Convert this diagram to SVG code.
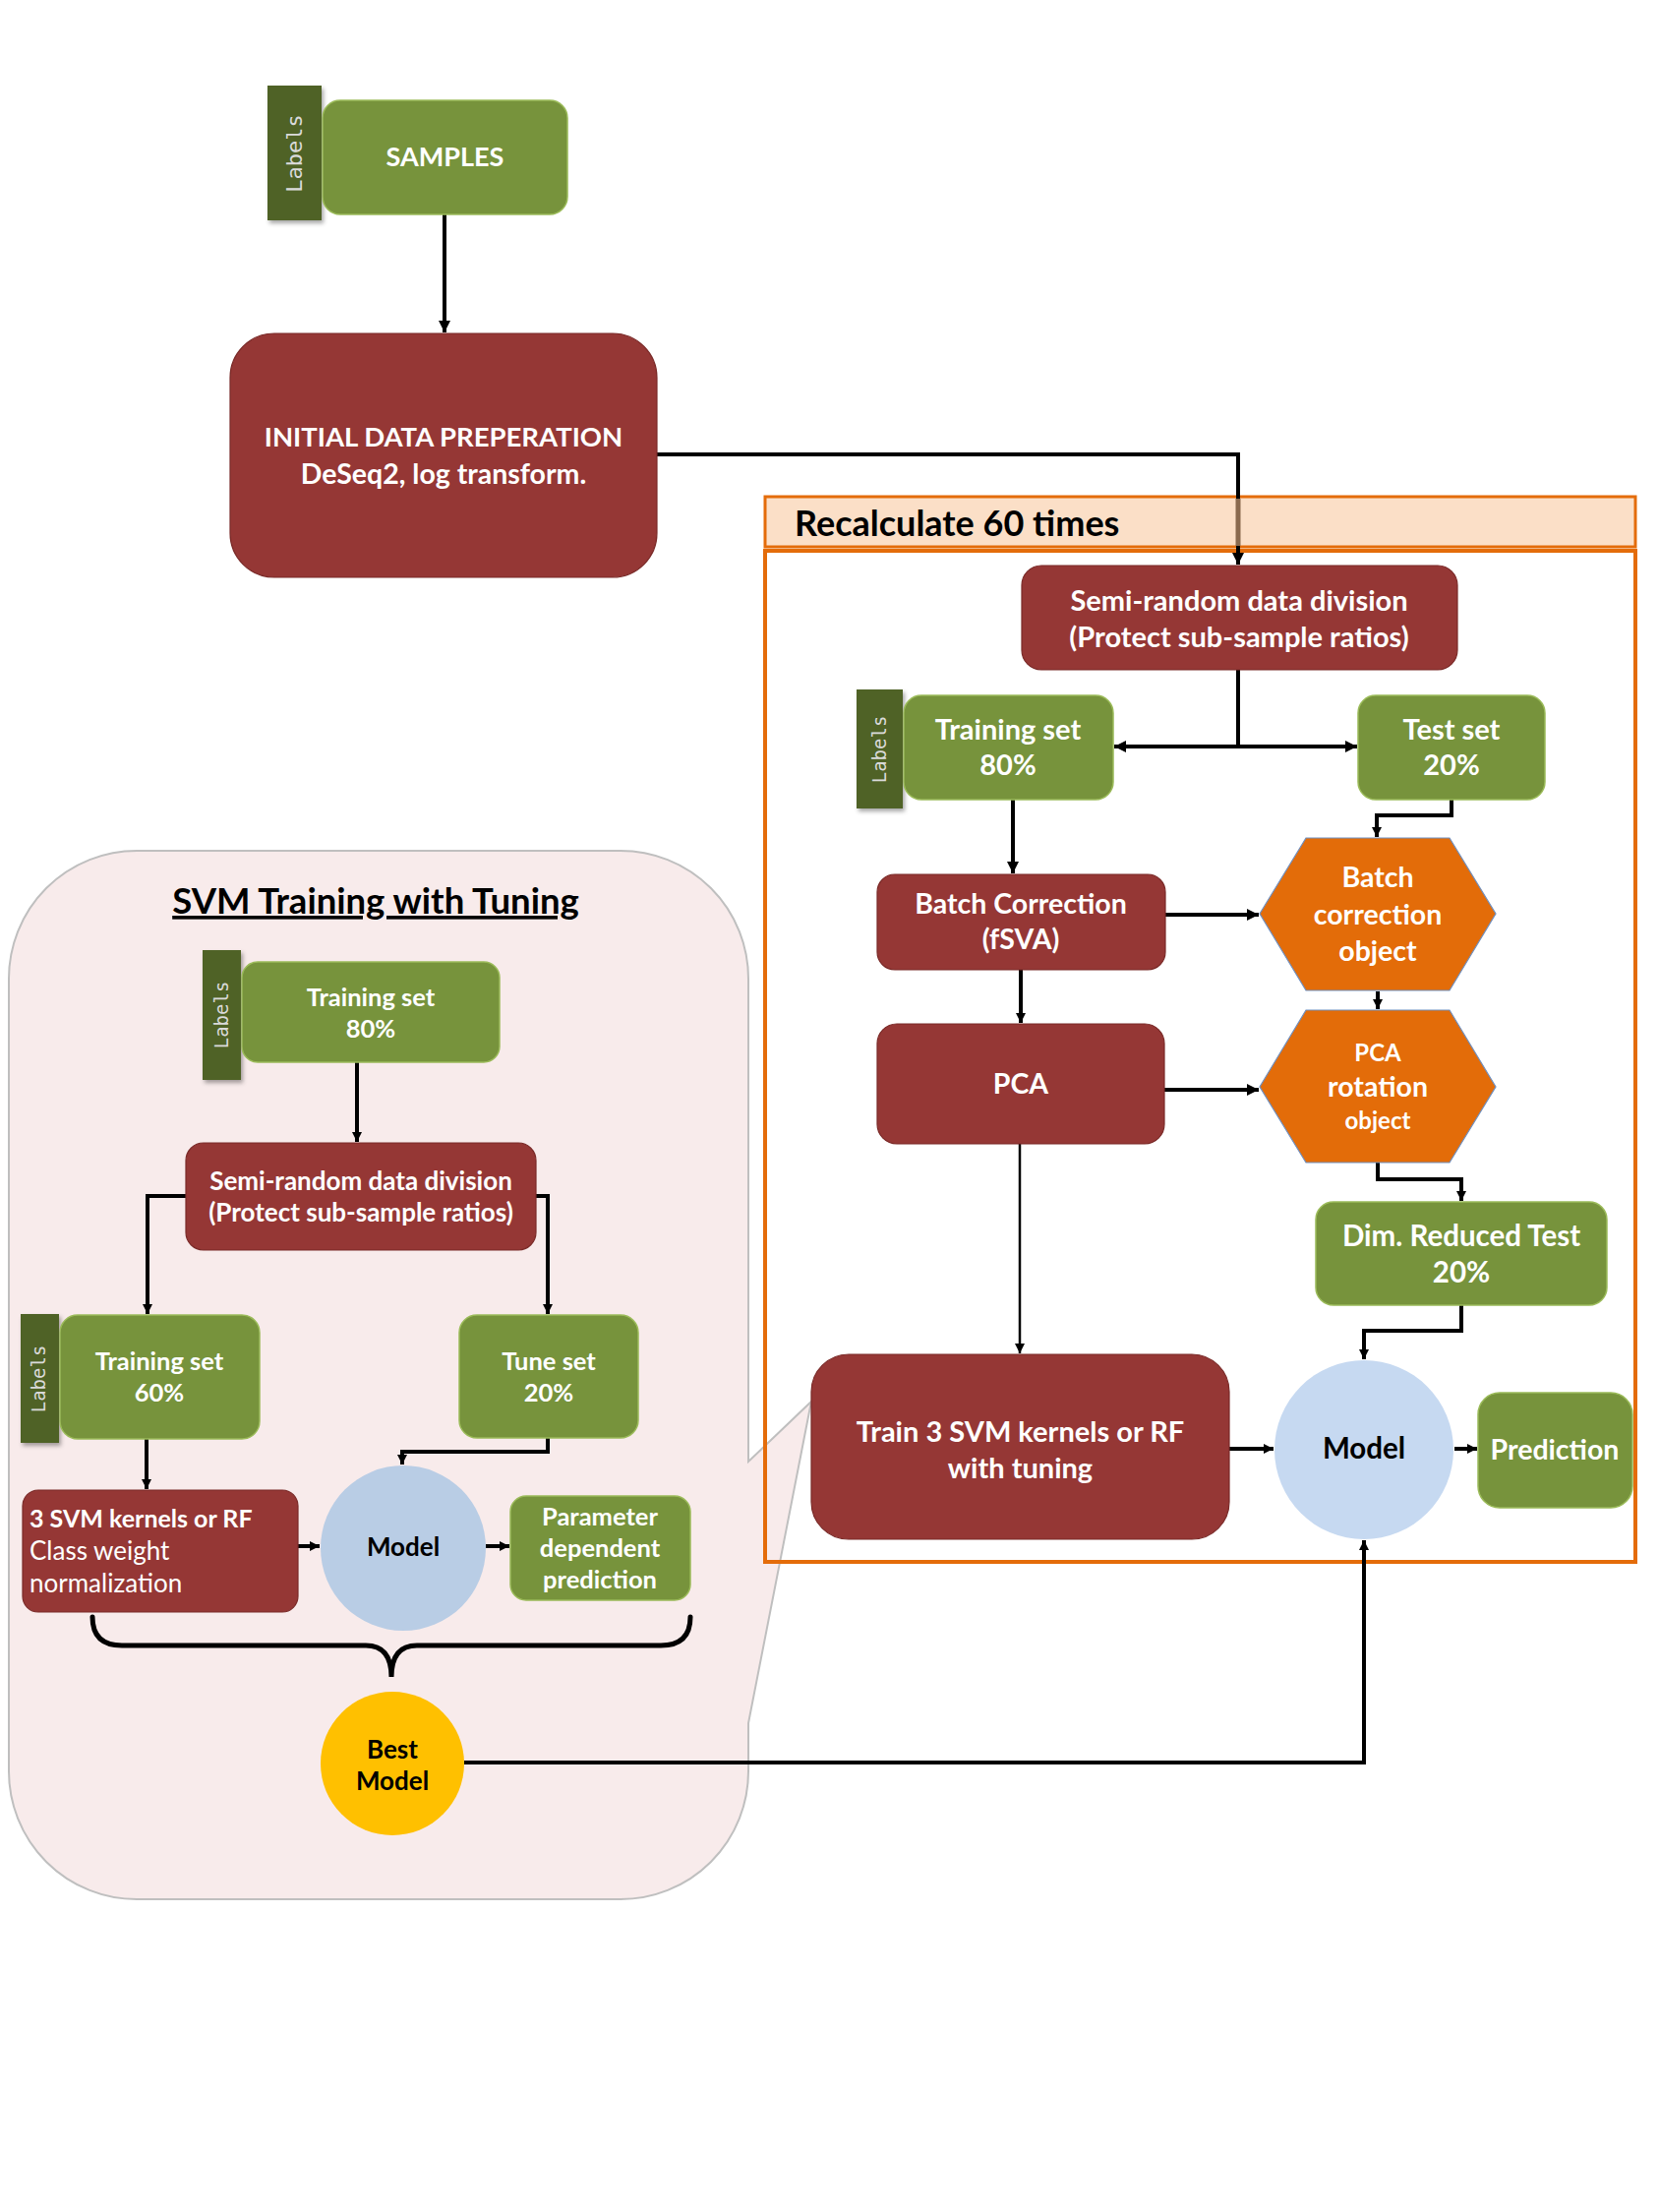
<svg xmlns="http://www.w3.org/2000/svg" width="1687" height="2249" viewBox="0 0 1687 2249">
<style>
  text { font-family: Lato, "Open Sans", "Liberation Sans", sans-serif; }
  .g { fill: #77933C; stroke: #9BBB59; stroke-width: 1.5; }
  .r { fill: #953735; stroke: #7A2A28; stroke-width: 1.2; }
  .tab { fill: #4F6228; filter: url(#sh); }
  .hex { fill: #E36C09; stroke: #6F8FBF; stroke-width: 1.2; }
  .w { fill: #FFFFFF; font-weight: bold; text-anchor: middle; }
  .k { fill: #000000; font-weight: bold; text-anchor: middle; }
  .lab { fill: #DADADA; font-family: "DejaVu Sans Mono", "Liberation Mono", monospace; text-anchor: middle; }
  .c { fill: none; stroke: #000; stroke-width: 4; stroke-linejoin: miter; }
  .c2 { fill: none; stroke: #000; stroke-width: 2.5; }
</style>
<defs>
  <marker id="ah" viewBox="0 0 10 10" refX="10" refY="5" markerUnits="userSpaceOnUse" markerWidth="12" markerHeight="12" orient="auto-start-reverse">
    <path d="M0,0 L10,5 L0,10 z" fill="#000"/>
  </marker>
  <marker id="as" viewBox="0 0 10 10" refX="10" refY="5" markerUnits="userSpaceOnUse" markerWidth="10" markerHeight="10" orient="auto-start-reverse">
    <path d="M0,0 L10,5 L0,10 z" fill="#000"/>
  </marker>
  <filter id="sh" x="-20%" y="-10%" width="150%" height="130%">
    <feDropShadow dx="2" dy="3" stdDeviation="2" flood-color="#000" flood-opacity="0.35"/>
  </filter>
</defs>
<rect width="1687" height="2249" fill="#FFFFFF"/>

<!-- SVM tuning panel with callout wedge -->
<g id="svm-panel">
  <path d="M139 865 H631 A130 130 0 0 1 761 995 V1486 L825 1425 L761 1752 V1801 A130 130 0 0 1 631 1931 H139 A130 130 0 0 1 9 1801 V995 A130 130 0 0 1 139 865 Z" fill="#F8EBEB" stroke="#BFBFBF" stroke-width="2"/>
  <text x="382" y="929" class="k" font-size="36.5" text-decoration="underline">SVM Training with Tuning</text>
</g>

<!-- Recalculate frame -->
<g id="recalc-frame">
  <rect x="778" y="560" width="885" height="1028" fill="none" stroke="#E46C0A" stroke-width="4"/>
  <rect x="778" y="505" width="885" height="51" fill="#FBDFC7" stroke="#E46C0A" stroke-width="3"/>
  <text x="808" y="545" font-size="36" font-weight="bold" fill="#000">Recalculate 60 times</text>
</g>

<g id="connectors">
  <path class="c" d="M452 218 V338" marker-end="url(#ah)"/>
  <path class="c" stroke-width="5" d="M668 462 H1259 V574" marker-end="url(#ah)"/>
  <path d="M1259 507 V555" stroke="#8A6A4F" stroke-width="5"/>
  <path class="c" d="M1259 681 V759"/>
  <path class="c" d="M1133 759 H1380" marker-start="url(#ah)" marker-end="url(#ah)"/>
  <path class="c" d="M1030 813 V888" marker-end="url(#ah)"/>
  <path class="c" d="M1476 813 V829 H1400 V851" marker-end="url(#as)"/>
  <path class="c" d="M1185 930 H1280" marker-end="url(#ah)"/>
  <path class="c" d="M1038 986 V1040" marker-end="url(#as)"/>
  <path class="c" d="M1401 1008 V1026" marker-end="url(#as)"/>
  <path class="c" d="M1184 1108 H1280" marker-end="url(#ah)"/>
  <path class="c" d="M1401 1182 V1199 H1486 V1221" marker-end="url(#as)"/>
  <path class="c" d="M1486 1327 V1353 H1387 V1382" marker-end="url(#as)"/>
  <path class="c2" d="M1037 1163 V1376" marker-end="url(#as)"/>
  <path class="c" d="M1250 1473 H1295" marker-end="url(#as)"/>
  <path class="c" d="M1479 1473 H1502" marker-end="url(#as)"/>
  <path class="c" stroke-width="3" d="M472 1792 H1387 V1566" marker-end="url(#as)"/>
  <path class="c" d="M363 1080 V1161" marker-end="url(#as)"/>
  <path class="c" d="M189 1216 H150 V1336" marker-end="url(#as)"/>
  <path class="c" d="M545 1216 H557 V1336" marker-end="url(#as)"/>
  <path class="c" d="M149 1463 V1514" marker-end="url(#as)"/>
  <path class="c" d="M557 1462 V1476 H409 V1489" marker-end="url(#as)"/>
  <path class="c" d="M303 1572 H325" marker-end="url(#as)"/>
  <path class="c" d="M494 1572 H518" marker-end="url(#as)"/>
  <path d="M94 1644 Q94 1673 124 1673 H372 Q398 1673 398 1705 Q398 1673 424 1673 H672 Q702 1673 702 1644" fill="none" stroke="#000" stroke-width="5" stroke-linecap="round"/>
</g>

<g id="samples">
  <rect class="tab" x="272" y="87" width="55" height="137"/>
  <text class="lab" font-size="22" transform="translate(307 156) rotate(-90)">Labels</text>
  <rect class="g" x="328" y="102" width="249" height="116" rx="18"/>
  <text class="w" x="452.5" y="169" font-size="27">SAMPLES</text>
</g>

<g id="initial-prep">
  <rect class="r" x="234" y="339" width="434" height="248" rx="45"/>
  <text class="w" x="451" y="454" font-size="27.5">INITIAL DATA PREPERATION</text>
  <text class="w" x="451" y="492" font-size="28.5">DeSeq2, log transform.</text>
</g>

<g id="semi-random-outer">
  <rect class="r" x="1039" y="575" width="443" height="106" rx="20"/>
  <text class="w" x="1260" y="621" font-size="29">Semi-random data division</text>
  <text class="w" x="1260" y="658" font-size="29">(Protect sub-sample ratios)</text>
</g>

<g id="training80-outer">
  <rect class="tab" x="871" y="701" width="47" height="121"/>
  <text class="lab" font-size="19" transform="translate(901 762) rotate(-90)">Labels</text>
  <rect class="g" x="919" y="707" width="213" height="106" rx="18"/>
  <text class="w" x="1025" y="752" font-size="29">Training set</text>
  <text class="w" x="1025" y="788" font-size="29">80%</text>
</g>

<g id="test20">
  <rect class="g" x="1381" y="707" width="190" height="106" rx="18"/>
  <text class="w" x="1476" y="752" font-size="29">Test set</text>
  <text class="w" x="1476" y="788" font-size="29">20%</text>
</g>

<g id="batch-correction">
  <rect class="r" x="892" y="889" width="293" height="97" rx="18"/>
  <text class="w" x="1038" y="929" font-size="28.5">Batch Correction</text>
  <text class="w" x="1038" y="965" font-size="28.5">(fSVA)</text>
</g>

<g id="batch-object">
  <polygon class="hex" points="1281,929 1328,852 1474,852 1521,929 1474,1007 1328,1007"/>
  <text class="w" x="1401" y="902" font-size="28.5">Batch</text>
  <text class="w" x="1401" y="940" font-size="28.5">correction</text>
  <text class="w" x="1401" y="977" font-size="28.5">object</text>
</g>

<g id="pca">
  <rect class="r" x="892" y="1041" width="292" height="122" rx="20"/>
  <text class="w" x="1038" y="1112" font-size="28.5">PCA</text>
</g>

<g id="pca-object">
  <polygon class="hex" points="1281,1105 1328,1027 1474,1027 1521,1105 1474,1182 1328,1182"/>
  <text class="w" x="1401" y="1079" font-size="24">PCA</text>
  <text class="w" x="1401" y="1115" font-size="28.5">rotation</text>
  <text class="w" x="1401" y="1148" font-size="24">object</text>
</g>

<g id="dim-reduced">
  <rect class="g" x="1338" y="1222" width="296" height="105" rx="18"/>
  <text class="w" x="1486" y="1267" font-size="29.5">Dim. Reduced Test</text>
  <text class="w" x="1486" y="1304" font-size="29.5">20%</text>
</g>

<g id="train-svm">
  <rect class="r" x="825" y="1377" width="425" height="188" rx="38"/>
  <text class="w" x="1037.5" y="1466" font-size="29">Train 3 SVM kernels or RF</text>
  <text class="w" x="1037.5" y="1503" font-size="29">with tuning</text>
</g>

<g id="model-outer">
  <ellipse cx="1387" cy="1474" rx="91" ry="91" fill="#C6D9F1"/>
  <text class="k" x="1387" y="1483" font-size="29.5">Model</text>
</g>

<g id="prediction">
  <rect class="g" x="1503" y="1416" width="157" height="117" rx="22"/>
  <text class="w" x="1581" y="1484" font-size="28.5">Prediction</text>
</g>

<g id="training80-inner">
  <rect class="tab" x="206" y="966" width="39" height="132"/>
  <text class="lab" font-size="19" transform="translate(232 1032) rotate(-90)">Labels</text>
  <rect class="g" x="246" y="978" width="262" height="102" rx="16"/>
  <text class="w" x="377" y="1023" font-size="25.5">Training set</text>
  <text class="w" x="377" y="1055" font-size="25.5">80%</text>
</g>

<g id="semi-random-inner">
  <rect class="r" x="189" y="1162" width="356" height="109" rx="18"/>
  <text class="w" x="367" y="1210" font-size="26">Semi-random data division</text>
  <text class="w" x="367" y="1242" font-size="26">(Protect sub-sample ratios)</text>
</g>

<g id="training60">
  <rect class="tab" x="21" y="1336" width="39" height="131"/>
  <text class="lab" font-size="19" transform="translate(46 1402) rotate(-90)">Labels</text>
  <rect class="g" x="61" y="1337" width="203" height="126" rx="18"/>
  <text class="w" x="162" y="1393" font-size="25.5">Training set</text>
  <text class="w" x="162" y="1425" font-size="25.5">60%</text>
</g>

<g id="tune20">
  <rect class="g" x="467" y="1337" width="182" height="125" rx="18"/>
  <text class="w" x="558" y="1393" font-size="25.5">Tune set</text>
  <text class="w" x="558" y="1425" font-size="25.5">20%</text>
</g>

<g id="svm-kernels">
  <rect class="r" x="23" y="1515" width="280" height="124" rx="16"/>
  <text x="30" y="1553" font-size="25" font-weight="bold" fill="#FFF">3 SVM kernels or RF</text>
  <text x="30" y="1586" font-size="26" fill="#FFF">Class weight</text>
  <text x="30" y="1619" font-size="26" fill="#FFF">normalization</text>
</g>

<g id="model-inner">
  <ellipse cx="410" cy="1574" rx="84" ry="84" fill="#B9CDE5"/>
  <text class="k" x="410" y="1582" font-size="26">Model</text>
</g>

<g id="param-prediction">
  <rect class="g" x="519" y="1521" width="183" height="106" rx="16"/>
  <text class="w" x="610" y="1551" font-size="25.5">Parameter</text>
  <text class="w" x="610" y="1583" font-size="25.5">dependent</text>
  <text class="w" x="610" y="1615" font-size="25.5">prediction</text>
</g>

<g id="best-model">
  <ellipse cx="399" cy="1793" rx="73" ry="73" fill="#FFC000"/>
  <text class="k" x="399" y="1788" font-size="26">Best</text>
  <text class="k" x="399" y="1820" font-size="26">Model</text>
</g>
</svg>
